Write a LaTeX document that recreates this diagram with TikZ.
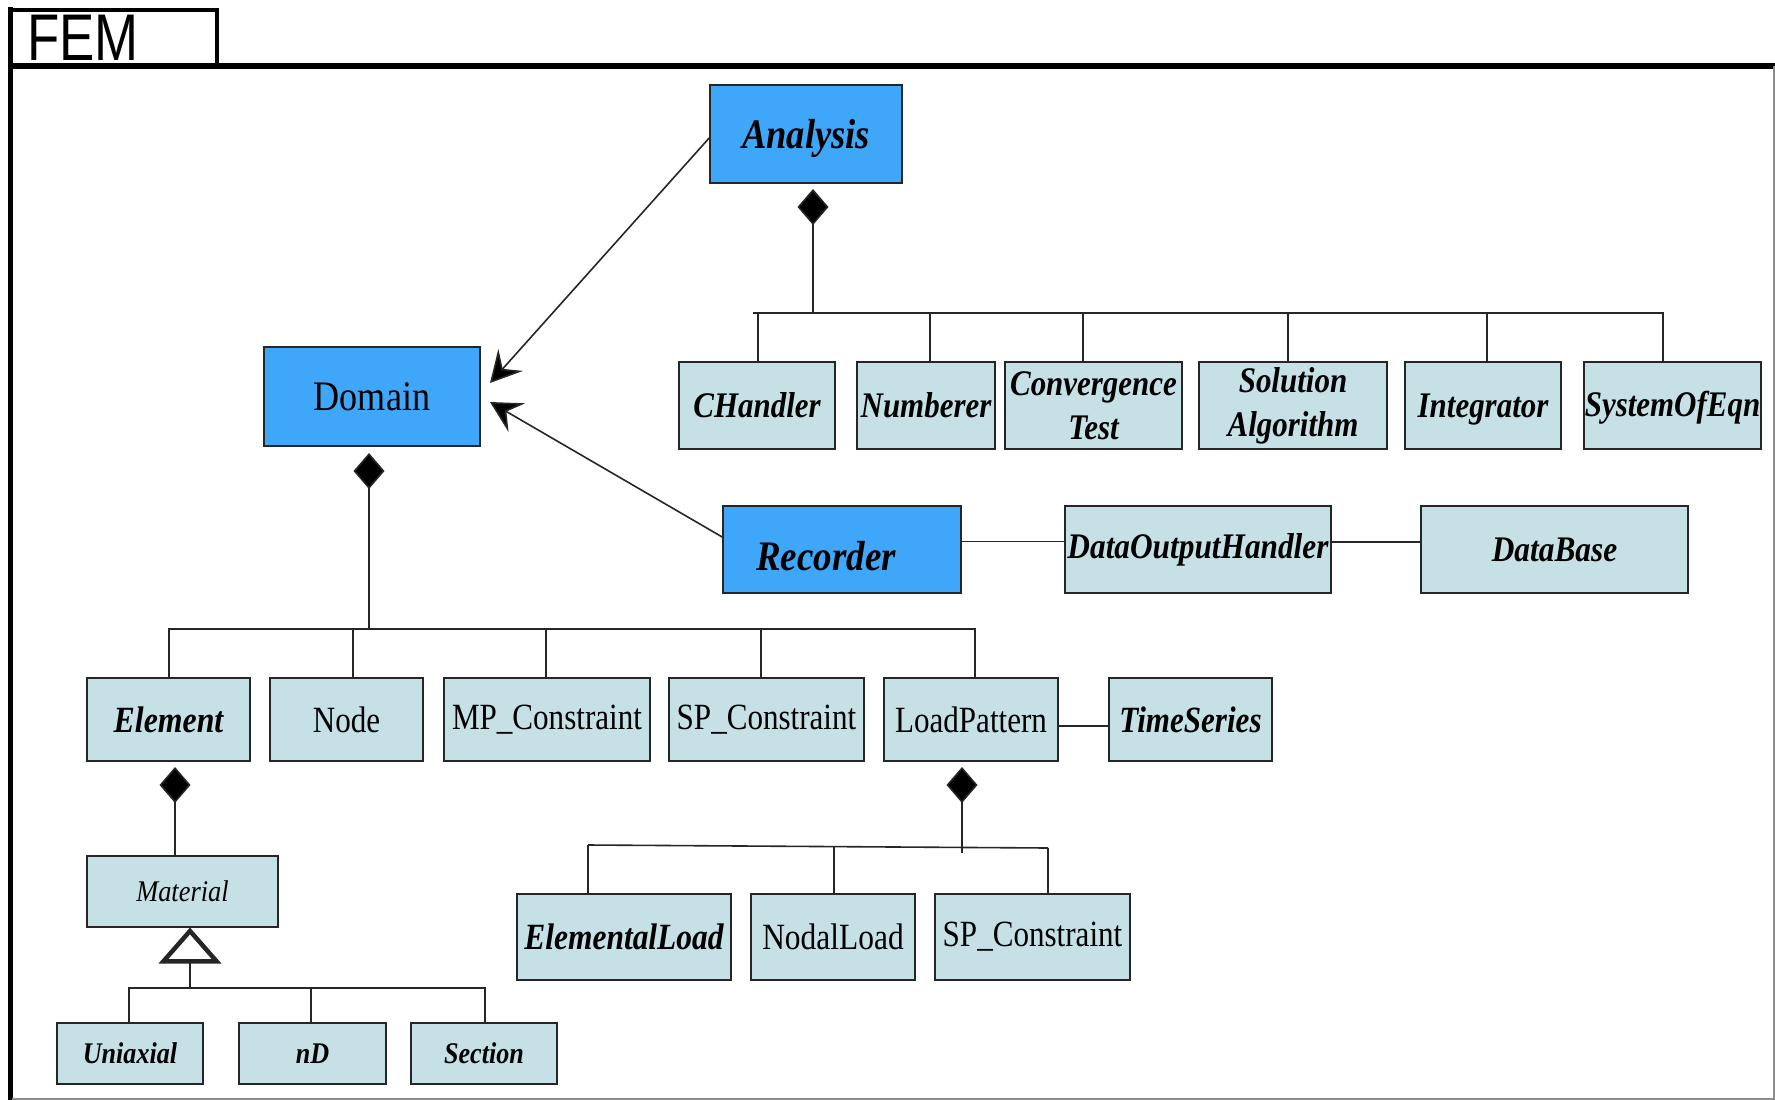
\documentclass[tikz,border=0pt]{standalone}
\usepackage{fontspec}
\usepackage{graphicx}
\setmainfont{Liberation Serif}
\newfontfamily\femfont{Liberation Sans}
\usetikzlibrary{arrows.meta}

\definecolor{clsblue}{RGB}{62,167,249}
\definecolor{clslight}{RGB}{197,225,230}

% condensed labels: #1 horizontal scale, #2 font size, #3 text
\newcommand\bilab[3]{\scalebox{#1}[1]{\fontsize{#2}{#2}\selectfont\bfseries\itshape #3}}
\newcommand\uplab[3]{\scalebox{#1}[1]{\fontsize{#2}{#2}\selectfont #3}}
\newcommand\itlab[3]{\scalebox{#1}[1]{\fontsize{#2}{#2}\selectfont\itshape #3}}

\tikzset{
  cls/.style={draw=black!85, line width=1.6pt, fill=clslight, inner sep=0pt, align=center},
  major/.style={cls, fill=clsblue},
  conn/.style={line width=1.6pt, draw=black!85},
  assoc/.style={conn, -{Stealth[length=31pt, width=33pt, inset=12pt, fill=black]}},
  compose/.style={conn, -{Diamond[length=36pt, width=31pt, fill=black]}},
  inherit/.style={conn, -{Triangle[open, length=36pt, width=62pt, line width=4.5pt]}},
}

\begin{document}
\begin{tikzpicture}[x=1pt, y=-1pt]
\useasboundingbox (0,0) rectangle (1775,1100);

% package frame with its name tab
\draw[line width=5pt] (10,7) -- (10,1100);
\draw[line width=4pt] (8,9.5) -- (217,9.5) -- (217,66);
\draw[line width=6pt] (8,66) -- (1775,66);
\draw[black!45, line width=1.5pt] (1774,66) -- (1774,1099) -- (12,1099);
\node (fem) at (83,38) {\scalebox{0.8}[1]{\fontsize{66}{66}\selectfont\femfont FEM}};

% classes
\node[major, minimum width=192, minimum height=98, text height=28pt, text depth=0pt] (analysis) at (806,134) {\bilab{0.87}{42}{Analysis}};
\node[major, minimum width=216, minimum height=99] (domain) at (372,396.5) {\uplab{0.86}{42}{Domain}};
\node[major, minimum width=238, minimum height=87, text height=41pt, text depth=0pt] (recorder) at (842,549.5) {\hspace*{-32pt}\bilab{0.88}{42}{Recorder}};

\node[cls, minimum width=156, minimum height=87] (chandler) at (757,405.5) {\bilab{0.86}{36}{CHandler}};
\node[cls, minimum width=138, minimum height=87] (numberer) at (926,405.5) {\bilab{0.86}{36}{Numberer}};
\node[cls, minimum width=177, minimum height=87, font=\fontsize{36}{44}\selectfont] (conv) at (1093.5,405.5) {\bilab{0.86}{36}{Convergence}\\\bilab{0.86}{36}{Test}};
\node[cls, minimum width=188, minimum height=87, font=\fontsize{36}{44}\selectfont] (solalg) at (1293,405.5) {\bilab{0.86}{36}{Solution}\\\bilab{0.86}{36}{Algorithm}};
\node[cls, minimum width=156, minimum height=87, text height=23pt, text depth=0pt] (integrator) at (1483,405.5) {\bilab{0.86}{36}{Integrator}};
\node[cls, minimum width=177, minimum height=87, text height=22pt, text depth=0pt] (soe) at (1672.5,405.5) {\bilab{0.86}{36}{SystemOfEqn}};

\node[cls, minimum width=266, minimum height=87] (doh) at (1198,549.5) {\bilab{0.87}{36}{DataOutputHandler}};
\node[cls, minimum width=267, minimum height=87] (database) at (1554.5,549.5) {\bilab{0.87}{36}{DataBase}};

\node[cls, minimum width=163, minimum height=83] (element) at (168.5,719.5) {\bilab{0.86}{37}{Element}};
\node[cls, minimum width=153, minimum height=83] (node) at (346.5,719.5) {\uplab{0.84}{37}{Node}};
\node[cls, minimum width=206, minimum height=83] (mpc) at (547,719.5) {\uplab{0.84}{37}{MP\_Constraint}};
\node[cls, minimum width=195, minimum height=83] (spc) at (766.5,719.5) {\uplab{0.84}{37}{SP\_Constraint}};
\node[cls, minimum width=174, minimum height=83] (loadpat) at (971,719.5) {\uplab{0.84}{37}{LoadPattern}};
\node[cls, minimum width=163, minimum height=83] (timeser) at (1190.5,719.5) {\bilab{0.84}{37}{TimeSeries}};

\node[cls, minimum width=191, minimum height=71] (material) at (182.5,891.5) {\itlab{0.88}{30}{Material}};
\node[cls, minimum width=146, minimum height=61] (uniaxial) at (130,1053.5) {\bilab{0.87}{30}{Uniaxial}};
\node[cls, minimum width=147, minimum height=61] (nd) at (312.5,1053.5) {\bilab{0.87}{30}{nD}};
\node[cls, minimum width=146, minimum height=61] (section) at (484,1053.5) {\bilab{0.87}{30}{Section}};

\node[cls, minimum width=214, minimum height=86] (elload) at (624,937) {\bilab{0.85}{37}{ElementalLoad}};
\node[cls, minimum width=164, minimum height=86] (nodload) at (833,937) {\uplab{0.85}{37}{NodalLoad}};
\node[cls, minimum width=195, minimum height=86] (spc2) at (1032.5,937) {\uplab{0.84}{37}{SP\_Constraint}};

% Analysis aggregates its components
\coordinate (anTip) at (813,189);
\coordinate (anJoin) at (813,313);
\coordinate (anBarL) at (753,313);
\coordinate (anBarR) at (1663,313);
\draw[compose] (anJoin) -- (anTip);
\draw[conn] (anBarL) -- (anBarR);
\draw[conn] ([xshift=1pt]chandler.north) -- ++(0,-49);
\draw[conn] ([xshift=4pt]numberer.north) -- ++(0,-49);
\draw[conn] ([xshift=-10.5pt]conv.north) -- ++(0,-49);
\draw[conn] ([xshift=-5pt]solalg.north) -- ++(0,-49);
\draw[conn] ([xshift=4pt]integrator.north) -- ++(0,-49);
\draw[conn] ([xshift=-9.5pt]soe.north) -- ++(0,-49);

% associations towards Domain
\coordinate (domTipA) at (490,383);
\coordinate (domTipB) at (490,402);
\draw[assoc] ([yshift=-4pt]analysis.west) -- (domTipA);
\draw[assoc] ([yshift=12.5pt]recorder.west) -- (domTipB);

% Recorder chain
\draw[conn] ([yshift=8pt]recorder.east) -- ([yshift=8pt]doh.west);
\draw[conn] ([yshift=7.5pt]doh.east) -- ([yshift=7.5pt]database.west);

% Domain aggregates its components
\coordinate (domTip) at (369,453);
\coordinate (domJoin) at (369,629);
\coordinate (domBarL) at (169,629);
\coordinate (domBarR) at (976,629);
\draw[compose] (domJoin) -- (domTip);
\draw[conn] (domBarL) -- (domBarR);
\draw[conn] ([xshift=0.5pt]element.north) -- ++(0,-49);
\draw[conn] ([xshift=6.5pt]node.north) -- ++(0,-49);
\draw[conn] ([xshift=-1pt]mpc.north) -- ++(0,-49);
\draw[conn] ([xshift=-5.5pt]spc.north) -- ++(0,-49);
\draw[conn] ([xshift=4pt]loadpat.north) -- ++(0,-49);

% LoadPattern -- TimeSeries
\draw[conn] ([yshift=-6.5pt]loadpat.east) -- ([yshift=-6.5pt]timeser.west);

% Element aggregates Material
\coordinate (elTip) at (175,767);
\draw[compose] ([xshift=-7.5pt]material.north) -- (elTip);

% Material specialisations
\coordinate (matJoin) at (190,988);
\coordinate (matTip) at (190,927.5);
\coordinate (matBarL) at (129,988);
\coordinate (matBarR) at (485,988);
\draw[inherit] (matJoin) -- (matTip);
\draw[conn] (matBarL) -- (matBarR);
\draw[conn] ([xshift=-1pt]uniaxial.north) -- ++(0,-35);
\draw[conn] ([xshift=-1.5pt]nd.north) -- ++(0,-35);
\draw[conn] ([xshift=1pt]section.north) -- ++(0,-35);

% LoadPattern aggregates loads
\coordinate (lpTip) at (962,767);
\coordinate (lpJoin) at (962,853);
\coordinate (lpBarL) at (588,845);
\coordinate (lpBarR) at (1048,848);
\draw[compose] (lpJoin) -- (lpTip);
\draw[conn] (lpBarL) -- (lpBarR);
\draw[conn] ([xshift=-36pt]elload.north) -- ++(0,-48);
\draw[conn] ([xshift=1pt]nodload.north) -- ++(0,-47);
\draw[conn] ([xshift=15.5pt]spc2.north) -- ++(0,-45);
\end{tikzpicture}
\end{document}
